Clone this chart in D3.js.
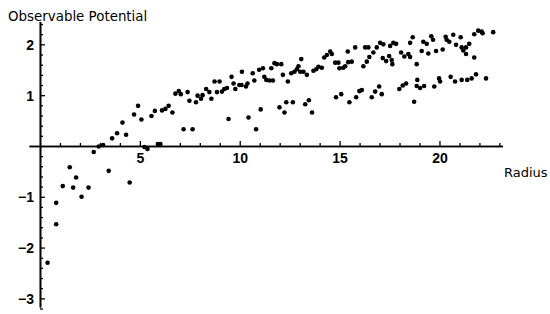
<!DOCTYPE html>
<meta charset="utf-8">
<style>
  body { margin: 0; background: #fff; }
  svg { display: block; }
  .axis-label { font-family: "DejaVu Sans", sans-serif; font-size: 13px; fill: #000; }
  .tick text { font-family: "Liberation Sans", Arial, sans-serif; font-size: 14px; font-weight: bold; fill: #000; }
</style>
<svg width="550" height="314"></svg>
<script src="https://cdn.jsdelivr.net/npm/d3@7"></script>
<script>

// radius values
var radius = [
  0.38, 0.81, 0.81, 1.14, 1.49, 1.66, 1.81, 2.08, 2.43, 2.69, 2.94, 3.16, 3.44, 4.49,
  3.61, 3.86, 4.13, 4.31, 4.71, 4.91, 5.08, 5.23, 5.38, 5.90, 6.03, 5.58, 5.75, 6.11,
  6.28, 6.44, 6.63, 6.78, 6.95, 7.05, 7.19, 7.64, 7.39, 7.48, 7.81, 7.89, 8.06, 8.14,
  8.32, 8.48, 8.58, 8.74, 8.99, 8.86, 9.11, 9.23, 9.36, 9.44, 9.59, 9.69, 9.78, 9.98,
  10.09, 10.11, 10.31, 10.39, 10.44, 10.65, 10.73, 10.82, 10.97, 11.05, 11.16, 11.23,
  11.33, 11.49, 11.66, 11.58, 11.74, 11.86, 12.08, 12.16, 12.41, 12.58, 12.74, 12.86,
  12.94, 13.08, 13.03, 13.19, 13.36, 13.69, 13.83, 13.94, 14.11, 14.23, 14.36, 14.53,
  14.61, 14.78, 14.94, 14.99, 15.18, 15.28, 15.41, 15.43, 15.61, 15.78, 16.28, 16.44,
  16.69, 16.86, 17.03, 17.19, 17.53, 17.69, 17.83, 16.19, 16.36, 16.49, 17.16, 17.33,
  17.48, 17.61, 17.64, 18.08, 18.24, 18.44, 18.53, 18.53, 18.66, 18.86, 19.11, 19.19,
  19.36, 19.44, 19.59, 19.68, 19.83, 20.16, 20.31, 20.36, 20.49, 20.69, 20.83, 21.06,
  21.11, 21.19, 21.33, 21.49, 21.33, 21.74, 21.74, 21.94, 22.11, 22.16, 22.69
]
var potential = [
  -2.30, -1.12, -1.54, -0.79, -0.42, -0.82, -0.62, -1.00, -0.82, -0.12, -0.01, 0.02, -0.49, -0.72,
  0.15, 0.25, 0.46, 0.22, 0.62, 0.79, 0.52, -0.02, -0.06, 0.04, 0.04, 0.59, 0.69, 0.70,
  0.73, 0.79, 0.66, 1.03, 1.08, 1.02, 0.33, 0.33, 1.06, 0.89, 0.86, 0.99, 0.93, 1.00,
  1.12, 1.06, 0.93, 1.27, 1.27, 1.06, 1.07, 1.12, 1.14, 0.53, 1.36, 1.23, 1.12, 1.20,
  1.20, 1.46, 1.17, 1.23, 0.56, 1.43, 1.29, 0.33, 1.50, 0.72, 1.53, 1.36,
  1.30, 1.29, 1.29, 1.53, 1.63, 1.61, 1.61, 1.40, 1.27, 1.43, 1.46, 1.51,
  1.57, 1.71, 1.46, 1.46, 1.40, 1.48, 1.51, 1.56, 1.54, 1.74, 1.79, 1.86,
  1.81, 1.64, 1.64, 1.53, 1.54, 1.57, 1.86, 1.65, 1.66, 1.94, 1.94, 1.94,
  1.84, 1.94, 2.03, 2.00, 1.97, 2.03, 2.01, 1.57, 1.66, 1.75, 1.73, 1.67,
  1.77, 1.69, 1.61, 1.84, 1.76, 1.81, 1.75, 2.03, 2.14, 1.61, 1.87, 2.05,
  2.01, 1.82, 2.16, 2.09, 1.87, 1.90, 2.15, 2.09, 2.05, 2.19, 1.99, 2.14,
  1.94, 1.88, 1.94, 2.01, 1.81, 1.74, 2.20, 2.27, 2.25, 2.22, 2.24
]
// the lower branch
var radiusLow = [
  11.99, 12.24, 12.33, 12.66, 13.28, 13.46, 13.62, 14.82, 15.08, 15.49, 15.83, 15.99,
  16.11, 16.61, 16.78, 16.98, 17.11, 17.99, 18.16, 18.33, 18.73, 18.89, 18.86, 19.03,
  19.23, 19.74, 19.98, 20.03, 20.56, 20.78, 21.11, 21.39, 21.61, 21.83, 22.33
]
var potentialLow = [
  0.76, 0.66, 0.86, 0.86, 0.82, 0.90, 0.66, 0.96, 1.02, 0.86, 0.96, 1.08,
  1.10, 0.96, 1.07, 1.17, 1.02, 1.12, 1.19, 1.23, 0.87, 1.30, 1.18, 1.14,
  1.18, 1.17, 1.33, 1.27, 1.36, 1.27, 1.30, 1.30, 1.33, 1.41, 1.33
]

var xMajor = [5, 10, 15, 20]
var yMajor = [-3, -2, -1, 1, 2]

var xMinor = d3.range(1, 24).filter(function(v) { return xMajor.indexOf(v) < 0 })
var yMinor = d3.range(-16, 13).map(function(v) { return +(v * 0.2).toFixed(1) })
  .filter(function(v) { return v !== 0 && yMajor.indexOf(v) < 0 })

var svg = d3.select("svg")

var x = d3.scaleLinear().domain([-0.55, 23.15]).range([29, 502.4])
var y = d3.scaleLinear().domain([-3.17, 2.45]).range([307, 21.5])

var points = radius.map(function(r, i) { return [r, potential[i]] })
  .concat(radiusLow.map(function(r, i) { return [r, potentialLow[i]] }))

// x axis, ticks pointing up
var gx = svg.append("g").attr("transform", "translate(0," + y(0) + ")")
gx.call(d3.axisBottom(x).tickValues(xMinor).tickFormat("").tickSizeInner(-3).tickSizeOuter(0))
gx.append("g").call(d3.axisBottom(x).tickValues(xMajor).tickSizeInner(-5).tickSizeOuter(0).tickPadding(5))

// y axis, ticks pointing right
var gy = svg.append("g").attr("transform", "translate(" + x(0) + ",0)")
gy.call(d3.axisLeft(y).tickValues(yMinor).tickFormat("").tickSizeInner(-3).tickSizeOuter(0))
gy.append("g").call(d3.axisLeft(y).tickValues(yMajor).tickSizeInner(-5).tickSizeOuter(0).tickPadding(6)
  .tickFormat(function(d) { return d < 0 ? "\u2212" + (-d) : d }))

svg.selectAll(".domain").attr("stroke", "#000").attr("stroke-width", 1.6)
svg.selectAll(".tick line").attr("stroke", "#000").attr("stroke-width", 1.3)
gx.selectAll(".tick text").attr("dy", "0.85em")
gy.selectAll(".tick text").attr("dy", "0.36em")

svg.append("g").selectAll("circle")
  .data(points)
  .enter().append("circle")
    .attr("cx", function(d) { return x(d[0]) })
    .attr("cy", function(d) { return y(d[1]) })
    .attr("r", 2.3)
    .attr("fill", "#000")

svg.append("text").attr("class", "axis-label")
  .attr("x", 8).attr("y", 21)
  .style("font-size", "13.4px")
  .text("Observable Potential")

svg.append("text").attr("class", "axis-label")
  .attr("x", 504).attr("y", 177)
  .text("Radius")

</script>
